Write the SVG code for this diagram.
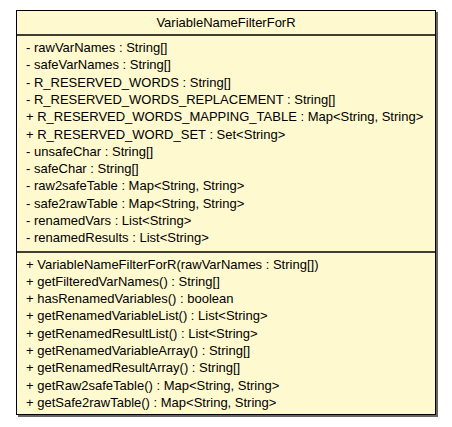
<svg xmlns="http://www.w3.org/2000/svg" width="452" height="427" viewBox="0 0 452 427">
<style>
.t{font-family:"Liberation Sans",Arial,sans-serif;font-size:13px;fill:#000}
.sep{stroke:#000;stroke-width:1.6}
</style>
<rect width="452" height="427" fill="#fff"/>
<g id="VariableNameFilterForR">
<rect x="18" y="12" width="420" height="405" fill="#666"/>
<rect x="16.5" y="10.5" width="419" height="404" fill="#FFF9CF" stroke="#000" stroke-width="1"/>
<line class="sep" x1="16.5" y1="35" x2="435.5" y2="35"/>
<line class="sep" x1="16.5" y1="252" x2="435.5" y2="252"/>
<text class="t" x="226" y="27" text-anchor="middle">VariableNameFilterForR</text>
<text class="t" x="26" y="52">- rawVarNames : String[]</text>
<text class="t" x="26" y="69.3">- safeVarNames : String[]</text>
<text class="t" x="26" y="86.6">- R_RESERVED_WORDS : String[]</text>
<text class="t" x="26" y="103.9">- R_RESERVED_WORDS_REPLACEMENT : String[]</text>
<text class="t" x="26" y="121.2">+ R_RESERVED_WORDS_MAPPING_TABLE : Map&lt;String, String&gt;</text>
<text class="t" x="26" y="138.5">+ R_RESERVED_WORD_SET : Set&lt;String&gt;</text>
<text class="t" x="26" y="155.8">- unsafeChar : String[]</text>
<text class="t" x="26" y="173.1">- safeChar : String[]</text>
<text class="t" x="26" y="190.4">- raw2safeTable : Map&lt;String, String&gt;</text>
<text class="t" x="26" y="207.7">- safe2rawTable : Map&lt;String, String&gt;</text>
<text class="t" x="26" y="225">- renamedVars : List&lt;String&gt;</text>
<text class="t" x="26" y="242.3">- renamedResults : List&lt;String&gt;</text>
<text class="t" x="26" y="268.5">+ VariableNameFilterForR(rawVarNames : String[])</text>
<text class="t" x="26" y="285.8">+ getFilteredVarNames() : String[]</text>
<text class="t" x="26" y="303.1">+ hasRenamedVariables() : boolean</text>
<text class="t" x="26" y="320.4">+ getRenamedVariableList() : List&lt;String&gt;</text>
<text class="t" x="26" y="337.7">+ getRenamedResultList() : List&lt;String&gt;</text>
<text class="t" x="26" y="355">+ getRenamedVariableArray() : String[]</text>
<text class="t" x="26" y="372.3">+ getRenamedResultArray() : String[]</text>
<text class="t" x="26" y="389.6">+ getRaw2safeTable() : Map&lt;String, String&gt;</text>
<text class="t" x="26" y="406.9">+ getSafe2rawTable() : Map&lt;String, String&gt;</text>
</g>
<g id="connectors"/>
</svg>
